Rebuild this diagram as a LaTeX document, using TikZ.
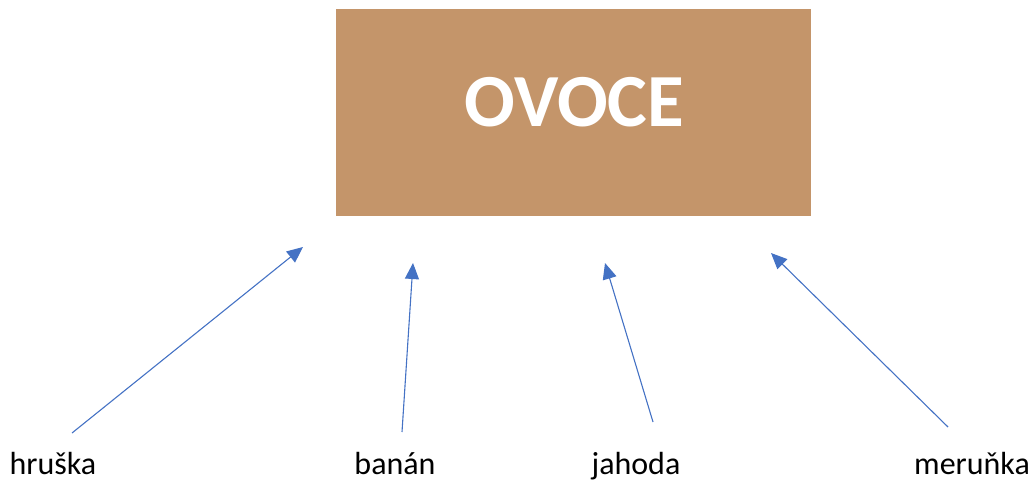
\documentclass[tikz,border=0pt]{standalone}
\usepackage{fontspec}
\setmainfont{Carlito}
\usetikzlibrary{arrows.meta}
\definecolor{boxfill}{HTML}{C4956A}
\definecolor{arrowblue}{HTML}{4472C4}
\tikzset{
  fruitlabel/.style={anchor=base, inner sep=0pt, font=\fontsize{32}{36}\selectfont, text=black},
  link/.style={draw=arrowblue, line width=1.1pt, -{Triangle[length=16pt,width=14pt]}, arrowblue},
}
\begin{document}
\begin{tikzpicture}[x=1pt,y=-1pt]
\useasboundingbox (0,0) rectangle (1032,480);
\node[fill=boxfill, minimum width=475pt, minimum height=207pt, inner sep=0pt, anchor=north west] (ovoce) at (336,9) {};
\node[text=white, font=\fontsize{75}{80}\selectfont\bfseries, inner sep=0pt] (title) at (574.5,102) {OVOCE};
\node[fruitlabel] (hruska) at (53,474) {hruška};
\node[fruitlabel] (banan) at (395,474) {banán};
\node[fruitlabel] (jahoda) at (636,474) {jahoda};
\node[fruitlabel] (merunka) at (972,474) {meruňka};
\coordinate (s1) at (72,433);
\coordinate (t1) at (303,247);
\coordinate (s2) at (402,432);
\coordinate (t2) at (413,263);
\coordinate (s3) at (653,422);
\coordinate (t3) at (605,263);
\coordinate (s4) at (948,427);
\coordinate (t4) at (771,253);
\draw[link] (s1) -- (t1);
\draw[link] (s2) -- (t2);
\draw[link] (s3) -- (t3);
\draw[link] (s4) -- (t4);
\end{tikzpicture}
\end{document}
